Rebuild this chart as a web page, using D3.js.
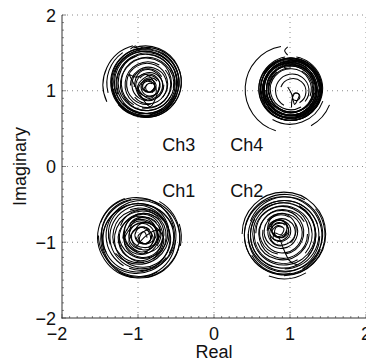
<!DOCTYPE html>
<html>
<head>
<meta charset="utf-8">
<script src="https://cdn.jsdelivr.net/npm/d3@7"></script>
<style>
  html, body { margin: 0; padding: 0; background: #fff; }
  svg { display: block; }
  text { font-family: "Liberation Sans", Arial, sans-serif; fill: #111; }
</style>
</head>
<body>
<svg id="chart" width="366" height="362"></svg>
<script>
// Axis ticks
const xTicks = [-2, -1, 0, 1, 2];
const yTicks = [-2, -1, 0, 1, 2];

// Channel names
const channels = ["Ch1", "Ch2", "Ch3", "Ch4"];

// Received symbol loops per channel: [centerRe, centerIm, radius, startDeg, endDeg]
const ch1Loops = [
  [-0.99,-0.93,0.54,-60,250], [-0.97,-0.95,0.52,100,440], [-1.02,-0.91,0.50,200,540],
  [-0.99,-0.97,0.48,0,340],   [-0.96,-0.91,0.46,120,470], [-1.02,-0.95,0.44,-90,250],
  [-0.95,-0.93,0.42,40,390],  [-0.99,-0.89,0.40,160,500], [-0.94,-0.96,0.37,-30,320],
  [-0.98,-0.92,0.35,80,420],  [-0.93,-0.89,0.32,200,540], [-0.97,-0.95,0.29,0,340],
  [-0.92,-0.88,0.26,110,450], [-0.96,-0.93,0.23,230,560], [-0.91,-0.87,0.20,-20,320],
  [-0.95,-0.92,0.17,90,420],  [-0.90,-0.88,0.14,200,520], [-0.93,-0.91,0.11,0,320],
  [-0.99,-0.93,0.56,-18,12],  [-1.00,-0.95,0.51,60,120],  [-1.01,-0.90,0.47,150,260],
  [-0.97,-0.94,0.39,250,330]
];
const ch2Loops = [
  [0.92,-0.89,0.55,180,450], [0.93,-0.90,0.53,-40,300], [0.91,-0.91,0.51,80,420],
  [0.94,-0.89,0.49,200,540], [0.92,-0.92,0.47,0,340],   [0.93,-0.90,0.45,110,450],
  [0.91,-0.91,0.43,230,570], [0.92,-0.89,0.41,-60,280], [0.91,-0.90,0.38,60,400],
  [0.90,-0.88,0.35,180,520], [0.91,-0.89,0.32,0,330],   [0.89,-0.87,0.29,100,440],
  [0.90,-0.88,0.26,220,550], [0.88,-0.86,0.22,-30,300], [0.89,-0.87,0.18,90,410],
  [0.87,-0.85,0.14,200,520], [0.86,-0.84,0.10,0,320],   [0.92,-0.90,0.58,60,110],
  [0.93,-0.92,0.50,20,150],  [0.90,-0.90,0.44,300,400]
];
const ch3Loops = [
  [-0.90,1.12,0.47,-110,140], [-0.89,1.11,0.46,140,470], [-0.91,1.11,0.45,-60,280],
  [-0.90,1.10,0.44,20,370],   [-0.89,1.12,0.43,100,440], [-0.91,1.10,0.42,200,530],
  [-0.90,1.11,0.41,-20,320],  [-0.88,1.10,0.40,60,400],  [-0.90,1.09,0.39,160,500],
  [-0.89,1.11,0.37,-90,250],  [-0.88,1.09,0.35,30,370],  [-0.89,1.10,0.33,120,460],
  [-0.87,1.08,0.30,-40,300],  [-0.88,1.09,0.27,80,400],  [-0.86,1.07,0.24,180,500],
  [-0.87,1.08,0.21,0,330],    [-0.85,1.06,0.18,100,420], [-0.86,1.07,0.15,220,540],
  [-0.84,1.05,0.12,0,320],    [-0.85,1.06,0.09,120,430], [-0.84,1.04,0.06,0,300],
  [-0.93,1.08,0.53,255,155],  [-0.92,1.10,0.49,235,165], [-0.90,1.11,0.44,40,180]
];
const ch4Loops = [
  [1.01,1.03,0.42,-80,260], [1.00,1.02,0.41,40,390],  [1.02,1.03,0.40,150,500],
  [1.01,1.01,0.40,-20,330], [1.00,1.03,0.39,90,440],  [1.02,1.02,0.38,200,550],
  [1.01,1.02,0.37,0,350],   [1.00,1.01,0.36,110,460], [1.02,1.03,0.36,230,570],
  [1.01,1.02,0.35,-40,310], [1.00,1.02,0.34,70,420],  [1.02,1.01,0.33,180,530],
  [1.01,1.03,0.32,10,350],  [1.00,1.02,0.31,130,470], [1.02,1.02,0.30,250,590],
  [1.01,1.01,0.29,-60,270], [1.01,1.02,0.27,60,380],  [1.03,1.00,0.22,120,400],
  [1.04,0.99,0.17,200,420], [0.98,1.02,0.57,260,107], [1.01,1.02,0.55,61,22],
  [1.00,1.02,0.46,20,120],  [1.08,0.92,0.05,0,360],   [1.01,1.02,0.41,-150,150],
  [1.02,1.02,0.38,-90,200], [1.00,1.03,0.35,30,330],  [1.01,1.01,0.33,-120,180],
  [1.02,1.03,0.31,60,350]
];

// Irregular inner trajectories (Re, Im)
const ch1Trace = [[-1.15,-0.85],[-1.05,-0.70],[-0.90,-0.68],[-0.78,-0.78],[-0.75,-0.95],[-0.85,-1.10],
  [-1.00,-1.12],[-1.12,-1.00],[-1.05,-0.85],[-0.92,-0.80],[-0.82,-0.90],[-0.88,-1.02],[-0.98,-0.98],
  [-0.95,-0.88],[-0.86,-0.84],[-0.80,-0.96],[-0.92,-1.15],[-1.10,-1.08],[-1.18,-0.92],[-1.08,-0.76],
  [-0.92,-0.72],[-0.70,-0.88],[-0.75,-1.05]];
const ch1Trace2 = [[-1.20,-0.95],[-1.15,-0.75],[-1.00,-0.64],[-0.82,-0.66],[-0.70,-0.80],[-0.68,-1.00],
  [-0.78,-1.15],[-0.95,-1.20],[-1.12,-1.12],[-1.18,-0.98],[-1.10,-0.82],[-0.96,-0.74],[-0.80,-0.78],
  [-0.74,-0.92],[-0.80,-1.06],[-0.94,-1.10],[-1.06,-1.02],[-1.08,-0.88],[-0.98,-0.80],[-0.86,-0.86],
  [-0.84,-0.98],[-0.94,-1.02],[-1.00,-0.92],[-0.92,-0.86],[-0.88,-0.94]];
const ch1Trace3 = [[-0.72,-0.70],[-0.88,-0.62],[-1.08,-0.66],[-1.22,-0.82],[-1.24,-1.02],[-1.12,-1.20],
  [-0.92,-1.26],[-0.74,-1.16],[-0.66,-0.96],[-0.74,-0.84],[-0.90,-0.92],[-1.02,-1.06]];
const ch2Trace = [[0.75,-0.80],[0.80,-0.72],[0.90,-0.72],[0.96,-0.80],[0.92,-0.90],[0.82,-0.92],
  [0.76,-0.86],[0.84,-0.78],[0.92,-0.82],[0.88,-0.90],[0.80,-0.88],[0.78,-0.95],[0.88,-0.98],
  [0.98,-0.90],[0.95,-0.75],[0.84,-0.70],[0.72,-0.78],[0.80,-0.90],[0.86,-0.95],[0.92,-1.10],
  [1.00,-1.25],[1.10,-1.30]];
const ch2Trace2 = [[0.70,-0.85],[0.74,-0.70],[0.88,-0.62],[1.02,-0.68],[1.08,-0.82],[1.02,-0.98],
  [0.88,-1.04],[0.76,-0.98],[0.74,-0.84],[0.82,-0.76],[0.94,-0.76],[0.98,-0.86],[0.90,-0.94],
  [0.80,-0.90],[0.82,-0.80],[0.90,-0.80]];
const ch3Trace = [[-1.12,1.22],[-1.02,1.18],[-0.92,1.22],[-0.82,1.16],[-0.78,1.05],[-0.86,0.98],
  [-0.95,1.04],[-0.90,1.12],[-0.80,1.10],[-0.76,0.98],[-0.84,0.90],[-0.94,0.95],[-1.00,1.06],
  [-0.93,1.16],[-0.83,1.20],[-0.72,1.12],[-0.74,0.98],[-0.84,0.79],[-0.98,0.96],[-1.12,1.22]];
const ch3Trace2 = [[-1.05,1.05],[-1.00,1.22],[-0.86,1.28],[-0.72,1.20],[-0.68,1.04],[-0.76,0.92],
  [-0.90,0.88],[-1.00,0.96],[-0.96,1.10],[-0.86,1.14],[-0.78,1.06],[-0.84,0.98],[-0.92,1.02],
  [-0.88,1.08]];
const ch3Notch = [[-1.10,1.55],[-1.03,1.59],[-1.00,1.54],[-0.94,1.58]];
const ch4Trace = [[0.97,1.05],[1.02,0.96],[1.04,0.88],[1.06,0.82],[1.10,0.88],[1.12,0.95],
  [1.07,0.97],[1.03,0.90],[1.02,0.78]];
const ch4Notch = [[0.97,1.58],[0.93,1.53],[0.97,1.47]];

const width = 366, height = 362;
const plot = { left: 62, right: 366, top: 15, bottom: 318 };

const x = d3.scaleLinear().domain([-2, 2]).range([plot.left, plot.right]);
const y = d3.scaleLinear().domain([-2, 2]).range([plot.bottom, plot.top]);

const svg = d3.select("#chart");

// Dotted grid
const grid = svg.append("g").attr("stroke", "#8a8a8a").attr("stroke-width", 1)
  .attr("stroke-dasharray", "1,4");
grid.selectAll("line.gx").data(xTicks.slice(1)).join("line")
  .attr("x1", d => x(d)).attr("x2", d => x(d))
  .attr("y1", plot.bottom).attr("y2", plot.top);
grid.selectAll("line.gy").data(yTicks.slice(1)).join("line")
  .attr("class", "gy")
  .attr("x1", plot.left).attr("x2", plot.right)
  .attr("y1", d => y(d)).attr("y2", d => y(d));

// Trajectories
const loopPath = d => {
  const p = d3.path();
  const [cx, cy, r, a0, a1] = d;
  const rad = Math.PI / 180;
  const pr = x(r) - x(0);
  p.arc(x(cx), y(cy), pr, a0 * rad, a1 * rad, a1 < a0);
  return p.toString();
};
const traceLine = d3.line().x(d => x(d[0])).y(d => y(d[1])).curve(d3.curveCatmullRom);

const traces = svg.append("g").attr("fill", "none").attr("stroke", "#000")
  .attr("stroke-width", 1.05);
[ch1Loops, ch2Loops, ch3Loops, ch4Loops].forEach(loops => {
  traces.append("g").selectAll("path").data(loops).join("path").attr("d", loopPath);
});
[ch1Trace, ch1Trace2, ch1Trace3, ch2Trace, ch2Trace2, ch3Trace, ch3Trace2, ch3Notch,
 ch4Trace, ch4Notch].forEach(t => {
  traces.append("path").attr("d", traceLine(t));
});

// Axes
const fmt = d => (d < 0 ? "\u2212" : "") + Math.abs(d);
const axes = svg.append("g").attr("stroke", "#333").attr("stroke-width", 1);
axes.append("line").attr("x1", plot.left).attr("x2", plot.left)
  .attr("y1", plot.top).attr("y2", plot.bottom + 0.5);
axes.append("line").attr("x1", plot.left - 0.5).attr("x2", plot.right)
  .attr("y1", plot.bottom).attr("y2", plot.bottom);

const minor = d3.range(-20, 21).map(i => i / 10);
axes.selectAll("line.mx").data(minor).join("line").attr("class", "mx")
  .attr("stroke-width", 0.6)
  .attr("x1", d => x(d)).attr("x2", d => x(d))
  .attr("y1", plot.bottom).attr("y2", d => plot.bottom - (Number.isInteger(d) ? 4 : 2));
axes.selectAll("line.my").data(minor).join("line").attr("class", "my")
  .attr("stroke-width", 0.6)
  .attr("y1", d => y(d)).attr("y2", d => y(d))
  .attr("x1", plot.left).attr("x2", d => plot.left + (Number.isInteger(d) ? 4 : 2));

// Tick labels
svg.append("g").selectAll("text").data(xTicks).join("text")
  .attr("x", d => x(d)).attr("y", 340)
  .attr("dx", d => d < 0 ? -5 : 0)
  .attr("text-anchor", "middle").attr("font-size", 18)
  .text(fmt);
svg.append("g").selectAll("text").data(yTicks).join("text")
  .attr("x", 56).attr("y", d => y(d) + 6.5)
  .attr("text-anchor", "end").attr("font-size", 18)
  .text(fmt);

// Axis titles
svg.append("text").attr("x", x(0)).attr("y", 358)
  .attr("text-anchor", "middle").attr("font-size", 18).text("Real");
svg.append("text").attr("transform", `translate(26,${(plot.top + plot.bottom) / 2}) rotate(-90)`)
  .attr("text-anchor", "middle").attr("font-size", 18).text("Imaginary");

// Channel names
const labelPos = { Ch1: [-0.68, -0.40], Ch2: [0.215, -0.40], Ch3: [-0.68, 0.21], Ch4: [0.215, 0.21] };
svg.append("g").selectAll("text").data(channels).join("text")
  .attr("x", d => x(labelPos[d][0])).attr("y", d => y(labelPos[d][1]))
  .attr("font-size", 18).text(d => d);
</script>
</body>
</html>
